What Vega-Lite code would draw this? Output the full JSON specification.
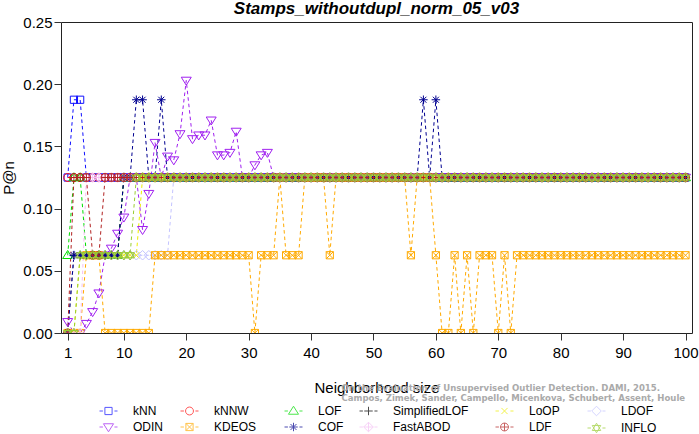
{
"$schema":"https://vega.github.io/schema/vega-lite/v6.json",
"autosize":{"type":"none"},
"width":631,"height":311,
"padding":{"left":61,"top":22,"right":7,"bottom":101},
"background":"white",
"title":{"text":"Stamps_withoutdupl_norm_05_v03","font":"Liberation Sans","fontSize":17,"fontWeight":"bold","fontStyle":"italic","color":"black","anchor":"middle","frame":"group","baseline":"alphabetic","offset":0,"dy":16},
"config":{"view":{"stroke":"#222","strokeWidth":1},"font":"Liberation Sans","legend":{"title":null,"orient":"none","legendY":379.5,"direction":"vertical","padding":0,"labelFont":"Liberation Sans","labelFontSize":12,"labelColor":"black","symbolSize":324,"symbolStrokeWidth":1,"labelOffset":15,"rowPadding":0}},
"datasets":{"d":[
{"m":"kNN","k":1,"p":0.125},{"m":"kNN","k":2,"p":0.1875},{"m":"kNN","k":3,"p":0.1875},{"m":"kNN","k":4,"p":0.125},{"m":"kNN","k":5,"p":0.125},{"m":"kNN","k":6,"p":0.125},{"m":"kNN","k":7,"p":0.125},{"m":"kNN","k":8,"p":0.125},{"m":"kNN","k":9,"p":0.125},{"m":"kNN","k":10,"p":0.125},{"m":"kNN","k":11,"p":0.125},{"m":"kNN","k":12,"p":0.125},{"m":"kNN","k":13,"p":0.125},{"m":"kNN","k":14,"p":0.125},{"m":"kNN","k":15,"p":0.125},{"m":"kNN","k":16,"p":0.125},{"m":"kNN","k":17,"p":0.125},{"m":"kNN","k":18,"p":0.125},{"m":"kNN","k":19,"p":0.125},{"m":"kNN","k":20,"p":0.125},{"m":"kNN","k":21,"p":0.125},{"m":"kNN","k":22,"p":0.125},{"m":"kNN","k":23,"p":0.125},{"m":"kNN","k":24,"p":0.125},{"m":"kNN","k":25,"p":0.125},{"m":"kNN","k":26,"p":0.125},{"m":"kNN","k":27,"p":0.125},{"m":"kNN","k":28,"p":0.125},{"m":"kNN","k":29,"p":0.125},{"m":"kNN","k":30,"p":0.125},{"m":"kNN","k":31,"p":0.125},{"m":"kNN","k":32,"p":0.125},{"m":"kNN","k":33,"p":0.125},{"m":"kNN","k":34,"p":0.125},{"m":"kNN","k":35,"p":0.125},{"m":"kNN","k":36,"p":0.125},{"m":"kNN","k":37,"p":0.125},{"m":"kNN","k":38,"p":0.125},{"m":"kNN","k":39,"p":0.125},{"m":"kNN","k":40,"p":0.125},{"m":"kNN","k":41,"p":0.125},{"m":"kNN","k":42,"p":0.125},{"m":"kNN","k":43,"p":0.125},{"m":"kNN","k":44,"p":0.125},{"m":"kNN","k":45,"p":0.125},{"m":"kNN","k":46,"p":0.125},{"m":"kNN","k":47,"p":0.125},{"m":"kNN","k":48,"p":0.125},{"m":"kNN","k":49,"p":0.125},{"m":"kNN","k":50,"p":0.125},{"m":"kNN","k":51,"p":0.125},{"m":"kNN","k":52,"p":0.125},{"m":"kNN","k":53,"p":0.125},{"m":"kNN","k":54,"p":0.125},{"m":"kNN","k":55,"p":0.125},{"m":"kNN","k":56,"p":0.125},{"m":"kNN","k":57,"p":0.125},{"m":"kNN","k":58,"p":0.125},{"m":"kNN","k":59,"p":0.125},{"m":"kNN","k":60,"p":0.125},{"m":"kNN","k":61,"p":0.125},{"m":"kNN","k":62,"p":0.125},{"m":"kNN","k":63,"p":0.125},{"m":"kNN","k":64,"p":0.125},{"m":"kNN","k":65,"p":0.125},{"m":"kNN","k":66,"p":0.125},{"m":"kNN","k":67,"p":0.125},{"m":"kNN","k":68,"p":0.125},{"m":"kNN","k":69,"p":0.125},{"m":"kNN","k":70,"p":0.125},{"m":"kNN","k":71,"p":0.125},{"m":"kNN","k":72,"p":0.125},{"m":"kNN","k":73,"p":0.125},{"m":"kNN","k":74,"p":0.125},{"m":"kNN","k":75,"p":0.125},{"m":"kNN","k":76,"p":0.125},{"m":"kNN","k":77,"p":0.125},{"m":"kNN","k":78,"p":0.125},{"m":"kNN","k":79,"p":0.125},{"m":"kNN","k":80,"p":0.125},{"m":"kNN","k":81,"p":0.125},{"m":"kNN","k":82,"p":0.125},{"m":"kNN","k":83,"p":0.125},{"m":"kNN","k":84,"p":0.125},{"m":"kNN","k":85,"p":0.125},{"m":"kNN","k":86,"p":0.125},{"m":"kNN","k":87,"p":0.125},{"m":"kNN","k":88,"p":0.125},{"m":"kNN","k":89,"p":0.125},{"m":"kNN","k":90,"p":0.125},{"m":"kNN","k":91,"p":0.125},{"m":"kNN","k":92,"p":0.125},{"m":"kNN","k":93,"p":0.125},{"m":"kNN","k":94,"p":0.125},{"m":"kNN","k":95,"p":0.125},{"m":"kNN","k":96,"p":0.125},{"m":"kNN","k":97,"p":0.125},{"m":"kNN","k":98,"p":0.125},{"m":"kNN","k":99,"p":0.125},{"m":"kNN","k":100,"p":0.125},
{"m":"kNNW","k":1,"p":0.125},{"m":"kNNW","k":2,"p":0.125},{"m":"kNNW","k":3,"p":0.125},{"m":"kNNW","k":4,"p":0.125},{"m":"kNNW","k":5,"p":0.125},{"m":"kNNW","k":6,"p":0.125},{"m":"kNNW","k":7,"p":0.125},{"m":"kNNW","k":8,"p":0.125},{"m":"kNNW","k":9,"p":0.125},{"m":"kNNW","k":10,"p":0.125},{"m":"kNNW","k":11,"p":0.125},{"m":"kNNW","k":12,"p":0.125},{"m":"kNNW","k":13,"p":0.125},{"m":"kNNW","k":14,"p":0.125},{"m":"kNNW","k":15,"p":0.125},{"m":"kNNW","k":16,"p":0.125},{"m":"kNNW","k":17,"p":0.125},{"m":"kNNW","k":18,"p":0.125},{"m":"kNNW","k":19,"p":0.125},{"m":"kNNW","k":20,"p":0.125},{"m":"kNNW","k":21,"p":0.125},{"m":"kNNW","k":22,"p":0.125},{"m":"kNNW","k":23,"p":0.125},{"m":"kNNW","k":24,"p":0.125},{"m":"kNNW","k":25,"p":0.125},{"m":"kNNW","k":26,"p":0.125},{"m":"kNNW","k":27,"p":0.125},{"m":"kNNW","k":28,"p":0.125},{"m":"kNNW","k":29,"p":0.125},{"m":"kNNW","k":30,"p":0.125},{"m":"kNNW","k":31,"p":0.125},{"m":"kNNW","k":32,"p":0.125},{"m":"kNNW","k":33,"p":0.125},{"m":"kNNW","k":34,"p":0.125},{"m":"kNNW","k":35,"p":0.125},{"m":"kNNW","k":36,"p":0.125},{"m":"kNNW","k":37,"p":0.125},{"m":"kNNW","k":38,"p":0.125},{"m":"kNNW","k":39,"p":0.125},{"m":"kNNW","k":40,"p":0.125},{"m":"kNNW","k":41,"p":0.125},{"m":"kNNW","k":42,"p":0.125},{"m":"kNNW","k":43,"p":0.125},{"m":"kNNW","k":44,"p":0.125},{"m":"kNNW","k":45,"p":0.125},{"m":"kNNW","k":46,"p":0.125},{"m":"kNNW","k":47,"p":0.125},{"m":"kNNW","k":48,"p":0.125},{"m":"kNNW","k":49,"p":0.125},{"m":"kNNW","k":50,"p":0.125},{"m":"kNNW","k":51,"p":0.125},{"m":"kNNW","k":52,"p":0.125},{"m":"kNNW","k":53,"p":0.125},{"m":"kNNW","k":54,"p":0.125},{"m":"kNNW","k":55,"p":0.125},{"m":"kNNW","k":56,"p":0.125},{"m":"kNNW","k":57,"p":0.125},{"m":"kNNW","k":58,"p":0.125},{"m":"kNNW","k":59,"p":0.125},{"m":"kNNW","k":60,"p":0.125},{"m":"kNNW","k":61,"p":0.125},{"m":"kNNW","k":62,"p":0.125},{"m":"kNNW","k":63,"p":0.125},{"m":"kNNW","k":64,"p":0.125},{"m":"kNNW","k":65,"p":0.125},{"m":"kNNW","k":66,"p":0.125},{"m":"kNNW","k":67,"p":0.125},{"m":"kNNW","k":68,"p":0.125},{"m":"kNNW","k":69,"p":0.125},{"m":"kNNW","k":70,"p":0.125},{"m":"kNNW","k":71,"p":0.125},{"m":"kNNW","k":72,"p":0.125},{"m":"kNNW","k":73,"p":0.125},{"m":"kNNW","k":74,"p":0.125},{"m":"kNNW","k":75,"p":0.125},{"m":"kNNW","k":76,"p":0.125},{"m":"kNNW","k":77,"p":0.125},{"m":"kNNW","k":78,"p":0.125},{"m":"kNNW","k":79,"p":0.125},{"m":"kNNW","k":80,"p":0.125},{"m":"kNNW","k":81,"p":0.125},{"m":"kNNW","k":82,"p":0.125},{"m":"kNNW","k":83,"p":0.125},{"m":"kNNW","k":84,"p":0.125},{"m":"kNNW","k":85,"p":0.125},{"m":"kNNW","k":86,"p":0.125},{"m":"kNNW","k":87,"p":0.125},{"m":"kNNW","k":88,"p":0.125},{"m":"kNNW","k":89,"p":0.125},{"m":"kNNW","k":90,"p":0.125},{"m":"kNNW","k":91,"p":0.125},{"m":"kNNW","k":92,"p":0.125},{"m":"kNNW","k":93,"p":0.125},{"m":"kNNW","k":94,"p":0.125},{"m":"kNNW","k":95,"p":0.125},{"m":"kNNW","k":96,"p":0.125},{"m":"kNNW","k":97,"p":0.125},{"m":"kNNW","k":98,"p":0.125},{"m":"kNNW","k":99,"p":0.125},{"m":"kNNW","k":100,"p":0.125},
{"m":"LOF","k":1,"p":0.0625},{"m":"LOF","k":2,"p":0.125},{"m":"LOF","k":3,"p":0.125},{"m":"LOF","k":4,"p":0.0625},{"m":"LOF","k":5,"p":0.0625},{"m":"LOF","k":6,"p":0.0625},{"m":"LOF","k":7,"p":0.0625},{"m":"LOF","k":8,"p":0.0625},{"m":"LOF","k":9,"p":0.0625},{"m":"LOF","k":10,"p":0.125},{"m":"LOF","k":11,"p":0.125},{"m":"LOF","k":12,"p":0.125},{"m":"LOF","k":13,"p":0.125},{"m":"LOF","k":14,"p":0.125},{"m":"LOF","k":15,"p":0.125},{"m":"LOF","k":16,"p":0.125},{"m":"LOF","k":17,"p":0.125},{"m":"LOF","k":18,"p":0.125},{"m":"LOF","k":19,"p":0.125},{"m":"LOF","k":20,"p":0.125},{"m":"LOF","k":21,"p":0.125},{"m":"LOF","k":22,"p":0.125},{"m":"LOF","k":23,"p":0.125},{"m":"LOF","k":24,"p":0.125},{"m":"LOF","k":25,"p":0.125},{"m":"LOF","k":26,"p":0.125},{"m":"LOF","k":27,"p":0.125},{"m":"LOF","k":28,"p":0.125},{"m":"LOF","k":29,"p":0.125},{"m":"LOF","k":30,"p":0.125},{"m":"LOF","k":31,"p":0.125},{"m":"LOF","k":32,"p":0.125},{"m":"LOF","k":33,"p":0.125},{"m":"LOF","k":34,"p":0.125},{"m":"LOF","k":35,"p":0.125},{"m":"LOF","k":36,"p":0.125},{"m":"LOF","k":37,"p":0.125},{"m":"LOF","k":38,"p":0.125},{"m":"LOF","k":39,"p":0.125},{"m":"LOF","k":40,"p":0.125},{"m":"LOF","k":41,"p":0.125},{"m":"LOF","k":42,"p":0.125},{"m":"LOF","k":43,"p":0.125},{"m":"LOF","k":44,"p":0.125},{"m":"LOF","k":45,"p":0.125},{"m":"LOF","k":46,"p":0.125},{"m":"LOF","k":47,"p":0.125},{"m":"LOF","k":48,"p":0.125},{"m":"LOF","k":49,"p":0.125},{"m":"LOF","k":50,"p":0.125},{"m":"LOF","k":51,"p":0.125},{"m":"LOF","k":52,"p":0.125},{"m":"LOF","k":53,"p":0.125},{"m":"LOF","k":54,"p":0.125},{"m":"LOF","k":55,"p":0.125},{"m":"LOF","k":56,"p":0.125},{"m":"LOF","k":57,"p":0.125},{"m":"LOF","k":58,"p":0.125},{"m":"LOF","k":59,"p":0.125},{"m":"LOF","k":60,"p":0.125},{"m":"LOF","k":61,"p":0.125},{"m":"LOF","k":62,"p":0.125},{"m":"LOF","k":63,"p":0.125},{"m":"LOF","k":64,"p":0.125},{"m":"LOF","k":65,"p":0.125},{"m":"LOF","k":66,"p":0.125},{"m":"LOF","k":67,"p":0.125},{"m":"LOF","k":68,"p":0.125},{"m":"LOF","k":69,"p":0.125},{"m":"LOF","k":70,"p":0.125},{"m":"LOF","k":71,"p":0.125},{"m":"LOF","k":72,"p":0.125},{"m":"LOF","k":73,"p":0.125},{"m":"LOF","k":74,"p":0.125},{"m":"LOF","k":75,"p":0.125},{"m":"LOF","k":76,"p":0.125},{"m":"LOF","k":77,"p":0.125},{"m":"LOF","k":78,"p":0.125},{"m":"LOF","k":79,"p":0.125},{"m":"LOF","k":80,"p":0.125},{"m":"LOF","k":81,"p":0.125},{"m":"LOF","k":82,"p":0.125},{"m":"LOF","k":83,"p":0.125},{"m":"LOF","k":84,"p":0.125},{"m":"LOF","k":85,"p":0.125},{"m":"LOF","k":86,"p":0.125},{"m":"LOF","k":87,"p":0.125},{"m":"LOF","k":88,"p":0.125},{"m":"LOF","k":89,"p":0.125},{"m":"LOF","k":90,"p":0.125},{"m":"LOF","k":91,"p":0.125},{"m":"LOF","k":92,"p":0.125},{"m":"LOF","k":93,"p":0.125},{"m":"LOF","k":94,"p":0.125},{"m":"LOF","k":95,"p":0.125},{"m":"LOF","k":96,"p":0.125},{"m":"LOF","k":97,"p":0.125},{"m":"LOF","k":98,"p":0.125},{"m":"LOF","k":99,"p":0.125},{"m":"LOF","k":100,"p":0.125},
{"m":"SimplifiedLOF","k":1,"p":0},{"m":"SimplifiedLOF","k":2,"p":0.0625},{"m":"SimplifiedLOF","k":3,"p":0.0625},{"m":"SimplifiedLOF","k":4,"p":0.0625},{"m":"SimplifiedLOF","k":5,"p":0.0625},{"m":"SimplifiedLOF","k":6,"p":0.0625},{"m":"SimplifiedLOF","k":7,"p":0.0625},{"m":"SimplifiedLOF","k":8,"p":0.0625},{"m":"SimplifiedLOF","k":9,"p":0.0625},{"m":"SimplifiedLOF","k":10,"p":0.125},{"m":"SimplifiedLOF","k":11,"p":0.125},{"m":"SimplifiedLOF","k":12,"p":0.125},{"m":"SimplifiedLOF","k":13,"p":0.125},{"m":"SimplifiedLOF","k":14,"p":0.125},{"m":"SimplifiedLOF","k":15,"p":0.125},{"m":"SimplifiedLOF","k":16,"p":0.125},{"m":"SimplifiedLOF","k":17,"p":0.125},{"m":"SimplifiedLOF","k":18,"p":0.125},{"m":"SimplifiedLOF","k":19,"p":0.125},{"m":"SimplifiedLOF","k":20,"p":0.125},{"m":"SimplifiedLOF","k":21,"p":0.125},{"m":"SimplifiedLOF","k":22,"p":0.125},{"m":"SimplifiedLOF","k":23,"p":0.125},{"m":"SimplifiedLOF","k":24,"p":0.125},{"m":"SimplifiedLOF","k":25,"p":0.125},{"m":"SimplifiedLOF","k":26,"p":0.125},{"m":"SimplifiedLOF","k":27,"p":0.125},{"m":"SimplifiedLOF","k":28,"p":0.125},{"m":"SimplifiedLOF","k":29,"p":0.125},{"m":"SimplifiedLOF","k":30,"p":0.125},{"m":"SimplifiedLOF","k":31,"p":0.125},{"m":"SimplifiedLOF","k":32,"p":0.125},{"m":"SimplifiedLOF","k":33,"p":0.125},{"m":"SimplifiedLOF","k":34,"p":0.125},{"m":"SimplifiedLOF","k":35,"p":0.125},{"m":"SimplifiedLOF","k":36,"p":0.125},{"m":"SimplifiedLOF","k":37,"p":0.125},{"m":"SimplifiedLOF","k":38,"p":0.125},{"m":"SimplifiedLOF","k":39,"p":0.125},{"m":"SimplifiedLOF","k":40,"p":0.125},{"m":"SimplifiedLOF","k":41,"p":0.125},{"m":"SimplifiedLOF","k":42,"p":0.125},{"m":"SimplifiedLOF","k":43,"p":0.125},{"m":"SimplifiedLOF","k":44,"p":0.125},{"m":"SimplifiedLOF","k":45,"p":0.125},{"m":"SimplifiedLOF","k":46,"p":0.125},{"m":"SimplifiedLOF","k":47,"p":0.125},{"m":"SimplifiedLOF","k":48,"p":0.125},{"m":"SimplifiedLOF","k":49,"p":0.125},{"m":"SimplifiedLOF","k":50,"p":0.125},{"m":"SimplifiedLOF","k":51,"p":0.125},{"m":"SimplifiedLOF","k":52,"p":0.125},{"m":"SimplifiedLOF","k":53,"p":0.125},{"m":"SimplifiedLOF","k":54,"p":0.125},{"m":"SimplifiedLOF","k":55,"p":0.125},{"m":"SimplifiedLOF","k":56,"p":0.125},{"m":"SimplifiedLOF","k":57,"p":0.125},{"m":"SimplifiedLOF","k":58,"p":0.125},{"m":"SimplifiedLOF","k":59,"p":0.125},{"m":"SimplifiedLOF","k":60,"p":0.125},{"m":"SimplifiedLOF","k":61,"p":0.125},{"m":"SimplifiedLOF","k":62,"p":0.125},{"m":"SimplifiedLOF","k":63,"p":0.125},{"m":"SimplifiedLOF","k":64,"p":0.125},{"m":"SimplifiedLOF","k":65,"p":0.125},{"m":"SimplifiedLOF","k":66,"p":0.125},{"m":"SimplifiedLOF","k":67,"p":0.125},{"m":"SimplifiedLOF","k":68,"p":0.125},{"m":"SimplifiedLOF","k":69,"p":0.125},{"m":"SimplifiedLOF","k":70,"p":0.125},{"m":"SimplifiedLOF","k":71,"p":0.125},{"m":"SimplifiedLOF","k":72,"p":0.125},{"m":"SimplifiedLOF","k":73,"p":0.125},{"m":"SimplifiedLOF","k":74,"p":0.125},{"m":"SimplifiedLOF","k":75,"p":0.125},{"m":"SimplifiedLOF","k":76,"p":0.125},{"m":"SimplifiedLOF","k":77,"p":0.125},{"m":"SimplifiedLOF","k":78,"p":0.125},{"m":"SimplifiedLOF","k":79,"p":0.125},{"m":"SimplifiedLOF","k":80,"p":0.125},{"m":"SimplifiedLOF","k":81,"p":0.125},{"m":"SimplifiedLOF","k":82,"p":0.125},{"m":"SimplifiedLOF","k":83,"p":0.125},{"m":"SimplifiedLOF","k":84,"p":0.125},{"m":"SimplifiedLOF","k":85,"p":0.125},{"m":"SimplifiedLOF","k":86,"p":0.125},{"m":"SimplifiedLOF","k":87,"p":0.125},{"m":"SimplifiedLOF","k":88,"p":0.125},{"m":"SimplifiedLOF","k":89,"p":0.125},{"m":"SimplifiedLOF","k":90,"p":0.125},{"m":"SimplifiedLOF","k":91,"p":0.125},{"m":"SimplifiedLOF","k":92,"p":0.125},{"m":"SimplifiedLOF","k":93,"p":0.125},{"m":"SimplifiedLOF","k":94,"p":0.125},{"m":"SimplifiedLOF","k":95,"p":0.125},{"m":"SimplifiedLOF","k":96,"p":0.125},{"m":"SimplifiedLOF","k":97,"p":0.125},{"m":"SimplifiedLOF","k":98,"p":0.125},{"m":"SimplifiedLOF","k":99,"p":0.125},{"m":"SimplifiedLOF","k":100,"p":0.125},
{"m":"LoOP","k":1,"p":0},{"m":"LoOP","k":2,"p":0},{"m":"LoOP","k":3,"p":0.0625},{"m":"LoOP","k":4,"p":0.0625},{"m":"LoOP","k":5,"p":0.0625},{"m":"LoOP","k":6,"p":0.0625},{"m":"LoOP","k":7,"p":0.0625},{"m":"LoOP","k":8,"p":0.0625},{"m":"LoOP","k":9,"p":0.0625},{"m":"LoOP","k":10,"p":0.0625},{"m":"LoOP","k":11,"p":0.0625},{"m":"LoOP","k":12,"p":0.0625},{"m":"LoOP","k":13,"p":0.125},{"m":"LoOP","k":14,"p":0.125},{"m":"LoOP","k":15,"p":0.125},{"m":"LoOP","k":16,"p":0.125},{"m":"LoOP","k":17,"p":0.125},{"m":"LoOP","k":18,"p":0.125},{"m":"LoOP","k":19,"p":0.125},{"m":"LoOP","k":20,"p":0.125},{"m":"LoOP","k":21,"p":0.125},{"m":"LoOP","k":22,"p":0.125},{"m":"LoOP","k":23,"p":0.125},{"m":"LoOP","k":24,"p":0.125},{"m":"LoOP","k":25,"p":0.125},{"m":"LoOP","k":26,"p":0.125},{"m":"LoOP","k":27,"p":0.125},{"m":"LoOP","k":28,"p":0.125},{"m":"LoOP","k":29,"p":0.125},{"m":"LoOP","k":30,"p":0.125},{"m":"LoOP","k":31,"p":0.125},{"m":"LoOP","k":32,"p":0.125},{"m":"LoOP","k":33,"p":0.125},{"m":"LoOP","k":34,"p":0.125},{"m":"LoOP","k":35,"p":0.125},{"m":"LoOP","k":36,"p":0.125},{"m":"LoOP","k":37,"p":0.125},{"m":"LoOP","k":38,"p":0.125},{"m":"LoOP","k":39,"p":0.125},{"m":"LoOP","k":40,"p":0.125},{"m":"LoOP","k":41,"p":0.125},{"m":"LoOP","k":42,"p":0.125},{"m":"LoOP","k":43,"p":0.125},{"m":"LoOP","k":44,"p":0.125},{"m":"LoOP","k":45,"p":0.125},{"m":"LoOP","k":46,"p":0.125},{"m":"LoOP","k":47,"p":0.125},{"m":"LoOP","k":48,"p":0.125},{"m":"LoOP","k":49,"p":0.125},{"m":"LoOP","k":50,"p":0.125},{"m":"LoOP","k":51,"p":0.125},{"m":"LoOP","k":52,"p":0.125},{"m":"LoOP","k":53,"p":0.125},{"m":"LoOP","k":54,"p":0.125},{"m":"LoOP","k":55,"p":0.125},{"m":"LoOP","k":56,"p":0.125},{"m":"LoOP","k":57,"p":0.125},{"m":"LoOP","k":58,"p":0.125},{"m":"LoOP","k":59,"p":0.125},{"m":"LoOP","k":60,"p":0.125},{"m":"LoOP","k":61,"p":0.125},{"m":"LoOP","k":62,"p":0.125},{"m":"LoOP","k":63,"p":0.125},{"m":"LoOP","k":64,"p":0.125},{"m":"LoOP","k":65,"p":0.125},{"m":"LoOP","k":66,"p":0.125},{"m":"LoOP","k":67,"p":0.125},{"m":"LoOP","k":68,"p":0.125},{"m":"LoOP","k":69,"p":0.125},{"m":"LoOP","k":70,"p":0.125},{"m":"LoOP","k":71,"p":0.125},{"m":"LoOP","k":72,"p":0.125},{"m":"LoOP","k":73,"p":0.125},{"m":"LoOP","k":74,"p":0.125},{"m":"LoOP","k":75,"p":0.125},{"m":"LoOP","k":76,"p":0.125},{"m":"LoOP","k":77,"p":0.125},{"m":"LoOP","k":78,"p":0.125},{"m":"LoOP","k":79,"p":0.125},{"m":"LoOP","k":80,"p":0.125},{"m":"LoOP","k":81,"p":0.125},{"m":"LoOP","k":82,"p":0.125},{"m":"LoOP","k":83,"p":0.125},{"m":"LoOP","k":84,"p":0.125},{"m":"LoOP","k":85,"p":0.125},{"m":"LoOP","k":86,"p":0.125},{"m":"LoOP","k":87,"p":0.125},{"m":"LoOP","k":88,"p":0.125},{"m":"LoOP","k":89,"p":0.125},{"m":"LoOP","k":90,"p":0.125},{"m":"LoOP","k":91,"p":0.125},{"m":"LoOP","k":92,"p":0.125},{"m":"LoOP","k":93,"p":0.125},{"m":"LoOP","k":94,"p":0.125},{"m":"LoOP","k":95,"p":0.125},{"m":"LoOP","k":96,"p":0.125},{"m":"LoOP","k":97,"p":0.125},{"m":"LoOP","k":98,"p":0.125},{"m":"LoOP","k":99,"p":0.125},{"m":"LoOP","k":100,"p":0.125},
{"m":"LDOF","k":1,"p":0},{"m":"LDOF","k":2,"p":0.0625},{"m":"LDOF","k":3,"p":0.0625},{"m":"LDOF","k":4,"p":0.0625},{"m":"LDOF","k":5,"p":0.0625},{"m":"LDOF","k":6,"p":0.0625},{"m":"LDOF","k":7,"p":0.0625},{"m":"LDOF","k":8,"p":0.0625},{"m":"LDOF","k":9,"p":0.0625},{"m":"LDOF","k":10,"p":0.0625},{"m":"LDOF","k":11,"p":0.0625},{"m":"LDOF","k":12,"p":0.0625},{"m":"LDOF","k":13,"p":0.0625},{"m":"LDOF","k":14,"p":0.0625},{"m":"LDOF","k":15,"p":0.0625},{"m":"LDOF","k":16,"p":0.0625},{"m":"LDOF","k":17,"p":0.0625},{"m":"LDOF","k":18,"p":0.125},{"m":"LDOF","k":19,"p":0.125},{"m":"LDOF","k":20,"p":0.125},{"m":"LDOF","k":21,"p":0.125},{"m":"LDOF","k":22,"p":0.125},{"m":"LDOF","k":23,"p":0.125},{"m":"LDOF","k":24,"p":0.125},{"m":"LDOF","k":25,"p":0.125},{"m":"LDOF","k":26,"p":0.125},{"m":"LDOF","k":27,"p":0.125},{"m":"LDOF","k":28,"p":0.125},{"m":"LDOF","k":29,"p":0.125},{"m":"LDOF","k":30,"p":0.125},{"m":"LDOF","k":31,"p":0.125},{"m":"LDOF","k":32,"p":0.125},{"m":"LDOF","k":33,"p":0.125},{"m":"LDOF","k":34,"p":0.125},{"m":"LDOF","k":35,"p":0.125},{"m":"LDOF","k":36,"p":0.125},{"m":"LDOF","k":37,"p":0.125},{"m":"LDOF","k":38,"p":0.125},{"m":"LDOF","k":39,"p":0.125},{"m":"LDOF","k":40,"p":0.125},{"m":"LDOF","k":41,"p":0.125},{"m":"LDOF","k":42,"p":0.125},{"m":"LDOF","k":43,"p":0.125},{"m":"LDOF","k":44,"p":0.125},{"m":"LDOF","k":45,"p":0.125},{"m":"LDOF","k":46,"p":0.125},{"m":"LDOF","k":47,"p":0.125},{"m":"LDOF","k":48,"p":0.125},{"m":"LDOF","k":49,"p":0.125},{"m":"LDOF","k":50,"p":0.125},{"m":"LDOF","k":51,"p":0.125},{"m":"LDOF","k":52,"p":0.125},{"m":"LDOF","k":53,"p":0.125},{"m":"LDOF","k":54,"p":0.125},{"m":"LDOF","k":55,"p":0.125},{"m":"LDOF","k":56,"p":0.125},{"m":"LDOF","k":57,"p":0.125},{"m":"LDOF","k":58,"p":0.125},{"m":"LDOF","k":59,"p":0.125},{"m":"LDOF","k":60,"p":0.125},{"m":"LDOF","k":61,"p":0.125},{"m":"LDOF","k":62,"p":0.125},{"m":"LDOF","k":63,"p":0.125},{"m":"LDOF","k":64,"p":0.125},{"m":"LDOF","k":65,"p":0.125},{"m":"LDOF","k":66,"p":0.125},{"m":"LDOF","k":67,"p":0.125},{"m":"LDOF","k":68,"p":0.125},{"m":"LDOF","k":69,"p":0.125},{"m":"LDOF","k":70,"p":0.125},{"m":"LDOF","k":71,"p":0.125},{"m":"LDOF","k":72,"p":0.125},{"m":"LDOF","k":73,"p":0.125},{"m":"LDOF","k":74,"p":0.125},{"m":"LDOF","k":75,"p":0.125},{"m":"LDOF","k":76,"p":0.125},{"m":"LDOF","k":77,"p":0.125},{"m":"LDOF","k":78,"p":0.125},{"m":"LDOF","k":79,"p":0.125},{"m":"LDOF","k":80,"p":0.125},{"m":"LDOF","k":81,"p":0.125},{"m":"LDOF","k":82,"p":0.125},{"m":"LDOF","k":83,"p":0.125},{"m":"LDOF","k":84,"p":0.125},{"m":"LDOF","k":85,"p":0.125},{"m":"LDOF","k":86,"p":0.125},{"m":"LDOF","k":87,"p":0.125},{"m":"LDOF","k":88,"p":0.125},{"m":"LDOF","k":89,"p":0.125},{"m":"LDOF","k":90,"p":0.125},{"m":"LDOF","k":91,"p":0.125},{"m":"LDOF","k":92,"p":0.125},{"m":"LDOF","k":93,"p":0.125},{"m":"LDOF","k":94,"p":0.125},{"m":"LDOF","k":95,"p":0.125},{"m":"LDOF","k":96,"p":0.125},{"m":"LDOF","k":97,"p":0.125},{"m":"LDOF","k":98,"p":0.125},{"m":"LDOF","k":99,"p":0.125},{"m":"LDOF","k":100,"p":0.125},
{"m":"ODIN","k":1,"p":0.009},{"m":"ODIN","k":2,"p":0},{"m":"ODIN","k":3,"p":0},{"m":"ODIN","k":4,"p":0.0075},{"m":"ODIN","k":5,"p":0.017},{"m":"ODIN","k":6,"p":0.032},{"m":"ODIN","k":7,"p":0.0625},{"m":"ODIN","k":8,"p":0.068},{"m":"ODIN","k":9,"p":0.08},{"m":"ODIN","k":10,"p":0.093},{"m":"ODIN","k":11,"p":0.125},{"m":"ODIN","k":12,"p":0.125},{"m":"ODIN","k":13,"p":0.083},{"m":"ODIN","k":14,"p":0.112},{"m":"ODIN","k":15,"p":0.153},{"m":"ODIN","k":16,"p":0.125},{"m":"ODIN","k":17,"p":0.142},{"m":"ODIN","k":18,"p":0.139},{"m":"ODIN","k":19,"p":0.16},{"m":"ODIN","k":20,"p":0.203},{"m":"ODIN","k":21,"p":0.156},{"m":"ODIN","k":22,"p":0.159},{"m":"ODIN","k":23,"p":0.159},{"m":"ODIN","k":24,"p":0.171},{"m":"ODIN","k":25,"p":0.143},{"m":"ODIN","k":26,"p":0.143},{"m":"ODIN","k":27,"p":0.145},{"m":"ODIN","k":28,"p":0.162},{"m":"ODIN","k":29,"p":0.125},{"m":"ODIN","k":30,"p":0.125},{"m":"ODIN","k":31,"p":0.135},{"m":"ODIN","k":32,"p":0.143},{"m":"ODIN","k":33,"p":0.145},{"m":"ODIN","k":34,"p":0.125},{"m":"ODIN","k":35,"p":0.125},{"m":"ODIN","k":36,"p":0.125},{"m":"ODIN","k":37,"p":0.125},{"m":"ODIN","k":38,"p":0.125},{"m":"ODIN","k":39,"p":0.125},{"m":"ODIN","k":40,"p":0.125},{"m":"ODIN","k":41,"p":0.125},{"m":"ODIN","k":42,"p":0.125},{"m":"ODIN","k":43,"p":0.125},{"m":"ODIN","k":44,"p":0.125},{"m":"ODIN","k":45,"p":0.125},{"m":"ODIN","k":46,"p":0.125},{"m":"ODIN","k":47,"p":0.125},{"m":"ODIN","k":48,"p":0.125},{"m":"ODIN","k":49,"p":0.125},{"m":"ODIN","k":50,"p":0.125},{"m":"ODIN","k":51,"p":0.125},{"m":"ODIN","k":52,"p":0.125},{"m":"ODIN","k":53,"p":0.125},{"m":"ODIN","k":54,"p":0.125},{"m":"ODIN","k":55,"p":0.125},{"m":"ODIN","k":56,"p":0.125},{"m":"ODIN","k":57,"p":0.125},{"m":"ODIN","k":58,"p":0.125},{"m":"ODIN","k":59,"p":0.125},{"m":"ODIN","k":60,"p":0.125},{"m":"ODIN","k":61,"p":0.125},{"m":"ODIN","k":62,"p":0.125},{"m":"ODIN","k":63,"p":0.125},{"m":"ODIN","k":64,"p":0.125},{"m":"ODIN","k":65,"p":0.125},{"m":"ODIN","k":66,"p":0.125},{"m":"ODIN","k":67,"p":0.125},{"m":"ODIN","k":68,"p":0.125},{"m":"ODIN","k":69,"p":0.125},{"m":"ODIN","k":70,"p":0.125},{"m":"ODIN","k":71,"p":0.125},{"m":"ODIN","k":72,"p":0.125},{"m":"ODIN","k":73,"p":0.125},{"m":"ODIN","k":74,"p":0.125},{"m":"ODIN","k":75,"p":0.125},{"m":"ODIN","k":76,"p":0.125},{"m":"ODIN","k":77,"p":0.125},{"m":"ODIN","k":78,"p":0.125},{"m":"ODIN","k":79,"p":0.125},{"m":"ODIN","k":80,"p":0.125},{"m":"ODIN","k":81,"p":0.125},{"m":"ODIN","k":82,"p":0.125},{"m":"ODIN","k":83,"p":0.125},{"m":"ODIN","k":84,"p":0.125},{"m":"ODIN","k":85,"p":0.125},{"m":"ODIN","k":86,"p":0.125},{"m":"ODIN","k":87,"p":0.125},{"m":"ODIN","k":88,"p":0.125},{"m":"ODIN","k":89,"p":0.125},{"m":"ODIN","k":90,"p":0.125},{"m":"ODIN","k":91,"p":0.125},{"m":"ODIN","k":92,"p":0.125},{"m":"ODIN","k":93,"p":0.125},{"m":"ODIN","k":94,"p":0.125},{"m":"ODIN","k":95,"p":0.125},{"m":"ODIN","k":96,"p":0.125},{"m":"ODIN","k":97,"p":0.125},{"m":"ODIN","k":98,"p":0.125},{"m":"ODIN","k":99,"p":0.125},{"m":"ODIN","k":100,"p":0.125},
{"m":"KDEOS","k":1,"p":0},{"m":"KDEOS","k":2,"p":0},{"m":"KDEOS","k":3,"p":0},{"m":"KDEOS","k":4,"p":0.0625},{"m":"KDEOS","k":5,"p":0.0625},{"m":"KDEOS","k":6,"p":0.0625},{"m":"KDEOS","k":7,"p":0},{"m":"KDEOS","k":8,"p":0},{"m":"KDEOS","k":9,"p":0},{"m":"KDEOS","k":10,"p":0},{"m":"KDEOS","k":11,"p":0},{"m":"KDEOS","k":12,"p":0},{"m":"KDEOS","k":13,"p":0},{"m":"KDEOS","k":14,"p":0},{"m":"KDEOS","k":15,"p":0.0625},{"m":"KDEOS","k":16,"p":0.0625},{"m":"KDEOS","k":17,"p":0.0625},{"m":"KDEOS","k":18,"p":0.0625},{"m":"KDEOS","k":19,"p":0.0625},{"m":"KDEOS","k":20,"p":0.0625},{"m":"KDEOS","k":21,"p":0.0625},{"m":"KDEOS","k":22,"p":0.0625},{"m":"KDEOS","k":23,"p":0.0625},{"m":"KDEOS","k":24,"p":0.0625},{"m":"KDEOS","k":25,"p":0.0625},{"m":"KDEOS","k":26,"p":0.0625},{"m":"KDEOS","k":27,"p":0.0625},{"m":"KDEOS","k":28,"p":0.0625},{"m":"KDEOS","k":29,"p":0.0625},{"m":"KDEOS","k":30,"p":0.0625},{"m":"KDEOS","k":31,"p":0},{"m":"KDEOS","k":32,"p":0.0625},{"m":"KDEOS","k":33,"p":0.0625},{"m":"KDEOS","k":34,"p":0.0625},{"m":"KDEOS","k":35,"p":0.125},{"m":"KDEOS","k":36,"p":0.0625},{"m":"KDEOS","k":37,"p":0.0625},{"m":"KDEOS","k":38,"p":0.0625},{"m":"KDEOS","k":39,"p":0.125},{"m":"KDEOS","k":40,"p":0.125},{"m":"KDEOS","k":41,"p":0.125},{"m":"KDEOS","k":42,"p":0.125},{"m":"KDEOS","k":43,"p":0.0625},{"m":"KDEOS","k":44,"p":0.125},{"m":"KDEOS","k":45,"p":0.125},{"m":"KDEOS","k":46,"p":0.125},{"m":"KDEOS","k":47,"p":0.125},{"m":"KDEOS","k":48,"p":0.125},{"m":"KDEOS","k":49,"p":0.125},{"m":"KDEOS","k":50,"p":0.125},{"m":"KDEOS","k":51,"p":0.125},{"m":"KDEOS","k":52,"p":0.125},{"m":"KDEOS","k":53,"p":0.125},{"m":"KDEOS","k":54,"p":0.125},{"m":"KDEOS","k":55,"p":0.125},{"m":"KDEOS","k":56,"p":0.0625},{"m":"KDEOS","k":57,"p":0.125},{"m":"KDEOS","k":58,"p":0.125},{"m":"KDEOS","k":59,"p":0.125},{"m":"KDEOS","k":60,"p":0.0625},{"m":"KDEOS","k":61,"p":0},{"m":"KDEOS","k":62,"p":0},{"m":"KDEOS","k":63,"p":0.0625},{"m":"KDEOS","k":64,"p":0},{"m":"KDEOS","k":65,"p":0.0625},{"m":"KDEOS","k":66,"p":0},{"m":"KDEOS","k":67,"p":0.0625},{"m":"KDEOS","k":68,"p":0.0625},{"m":"KDEOS","k":69,"p":0.0625},{"m":"KDEOS","k":70,"p":0},{"m":"KDEOS","k":71,"p":0.0625},{"m":"KDEOS","k":72,"p":0},{"m":"KDEOS","k":73,"p":0.0625},{"m":"KDEOS","k":74,"p":0.0625},{"m":"KDEOS","k":75,"p":0.0625},{"m":"KDEOS","k":76,"p":0.0625},{"m":"KDEOS","k":77,"p":0.0625},{"m":"KDEOS","k":78,"p":0.0625},{"m":"KDEOS","k":79,"p":0.0625},{"m":"KDEOS","k":80,"p":0.0625},{"m":"KDEOS","k":81,"p":0.0625},{"m":"KDEOS","k":82,"p":0.0625},{"m":"KDEOS","k":83,"p":0.0625},{"m":"KDEOS","k":84,"p":0.0625},{"m":"KDEOS","k":85,"p":0.0625},{"m":"KDEOS","k":86,"p":0.0625},{"m":"KDEOS","k":87,"p":0.0625},{"m":"KDEOS","k":88,"p":0.0625},{"m":"KDEOS","k":89,"p":0.0625},{"m":"KDEOS","k":90,"p":0.0625},{"m":"KDEOS","k":91,"p":0.0625},{"m":"KDEOS","k":92,"p":0.0625},{"m":"KDEOS","k":93,"p":0.0625},{"m":"KDEOS","k":94,"p":0.0625},{"m":"KDEOS","k":95,"p":0.0625},{"m":"KDEOS","k":96,"p":0.0625},{"m":"KDEOS","k":97,"p":0.0625},{"m":"KDEOS","k":98,"p":0.0625},{"m":"KDEOS","k":99,"p":0.0625},{"m":"KDEOS","k":100,"p":0.0625},
{"m":"COF","k":1,"p":0},{"m":"COF","k":2,"p":0.0625},{"m":"COF","k":3,"p":0.0625},{"m":"COF","k":4,"p":0.0625},{"m":"COF","k":5,"p":0.0625},{"m":"COF","k":6,"p":0.0625},{"m":"COF","k":7,"p":0.0625},{"m":"COF","k":8,"p":0.0625},{"m":"COF","k":9,"p":0.0625},{"m":"COF","k":10,"p":0.125},{"m":"COF","k":11,"p":0.125},{"m":"COF","k":12,"p":0.1875},{"m":"COF","k":13,"p":0.1875},{"m":"COF","k":14,"p":0.125},{"m":"COF","k":15,"p":0.125},{"m":"COF","k":16,"p":0.1875},{"m":"COF","k":17,"p":0.125},{"m":"COF","k":18,"p":0.125},{"m":"COF","k":19,"p":0.125},{"m":"COF","k":20,"p":0.125},{"m":"COF","k":21,"p":0.125},{"m":"COF","k":22,"p":0.125},{"m":"COF","k":23,"p":0.125},{"m":"COF","k":24,"p":0.125},{"m":"COF","k":25,"p":0.125},{"m":"COF","k":26,"p":0.125},{"m":"COF","k":27,"p":0.125},{"m":"COF","k":28,"p":0.125},{"m":"COF","k":29,"p":0.125},{"m":"COF","k":30,"p":0.125},{"m":"COF","k":31,"p":0.125},{"m":"COF","k":32,"p":0.125},{"m":"COF","k":33,"p":0.125},{"m":"COF","k":34,"p":0.125},{"m":"COF","k":35,"p":0.125},{"m":"COF","k":36,"p":0.125},{"m":"COF","k":37,"p":0.125},{"m":"COF","k":38,"p":0.125},{"m":"COF","k":39,"p":0.125},{"m":"COF","k":40,"p":0.125},{"m":"COF","k":41,"p":0.125},{"m":"COF","k":42,"p":0.125},{"m":"COF","k":43,"p":0.125},{"m":"COF","k":44,"p":0.125},{"m":"COF","k":45,"p":0.125},{"m":"COF","k":46,"p":0.125},{"m":"COF","k":47,"p":0.125},{"m":"COF","k":48,"p":0.125},{"m":"COF","k":49,"p":0.125},{"m":"COF","k":50,"p":0.125},{"m":"COF","k":51,"p":0.125},{"m":"COF","k":52,"p":0.125},{"m":"COF","k":53,"p":0.125},{"m":"COF","k":54,"p":0.125},{"m":"COF","k":55,"p":0.125},{"m":"COF","k":56,"p":0.125},{"m":"COF","k":57,"p":0.125},{"m":"COF","k":58,"p":0.1875},{"m":"COF","k":59,"p":0.125},{"m":"COF","k":60,"p":0.1875},{"m":"COF","k":61,"p":0.125},{"m":"COF","k":62,"p":0.125},{"m":"COF","k":63,"p":0.125},{"m":"COF","k":64,"p":0.125},{"m":"COF","k":65,"p":0.125},{"m":"COF","k":66,"p":0.125},{"m":"COF","k":67,"p":0.125},{"m":"COF","k":68,"p":0.125},{"m":"COF","k":69,"p":0.125},{"m":"COF","k":70,"p":0.125},{"m":"COF","k":71,"p":0.125},{"m":"COF","k":72,"p":0.125},{"m":"COF","k":73,"p":0.125},{"m":"COF","k":74,"p":0.125},{"m":"COF","k":75,"p":0.125},{"m":"COF","k":76,"p":0.125},{"m":"COF","k":77,"p":0.125},{"m":"COF","k":78,"p":0.125},{"m":"COF","k":79,"p":0.125},{"m":"COF","k":80,"p":0.125},{"m":"COF","k":81,"p":0.125},{"m":"COF","k":82,"p":0.125},{"m":"COF","k":83,"p":0.125},{"m":"COF","k":84,"p":0.125},{"m":"COF","k":85,"p":0.125},{"m":"COF","k":86,"p":0.125},{"m":"COF","k":87,"p":0.125},{"m":"COF","k":88,"p":0.125},{"m":"COF","k":89,"p":0.125},{"m":"COF","k":90,"p":0.125},{"m":"COF","k":91,"p":0.125},{"m":"COF","k":92,"p":0.125},{"m":"COF","k":93,"p":0.125},{"m":"COF","k":94,"p":0.125},{"m":"COF","k":95,"p":0.125},{"m":"COF","k":96,"p":0.125},{"m":"COF","k":97,"p":0.125},{"m":"COF","k":98,"p":0.125},{"m":"COF","k":99,"p":0.125},{"m":"COF","k":100,"p":0.125},
{"m":"FastABOD","k":1,"p":0},{"m":"FastABOD","k":2,"p":0},{"m":"FastABOD","k":3,"p":0},{"m":"FastABOD","k":4,"p":0.125},{"m":"FastABOD","k":5,"p":0.125},{"m":"FastABOD","k":6,"p":0.125},{"m":"FastABOD","k":7,"p":0.125},{"m":"FastABOD","k":8,"p":0.125},{"m":"FastABOD","k":9,"p":0.125},{"m":"FastABOD","k":10,"p":0.125},{"m":"FastABOD","k":11,"p":0.125},{"m":"FastABOD","k":12,"p":0.125},{"m":"FastABOD","k":13,"p":0.125},{"m":"FastABOD","k":14,"p":0.125},{"m":"FastABOD","k":15,"p":0.125},{"m":"FastABOD","k":16,"p":0.125},{"m":"FastABOD","k":17,"p":0.125},{"m":"FastABOD","k":18,"p":0.125},{"m":"FastABOD","k":19,"p":0.125},{"m":"FastABOD","k":20,"p":0.125},{"m":"FastABOD","k":21,"p":0.125},{"m":"FastABOD","k":22,"p":0.125},{"m":"FastABOD","k":23,"p":0.125},{"m":"FastABOD","k":24,"p":0.125},{"m":"FastABOD","k":25,"p":0.125},{"m":"FastABOD","k":26,"p":0.125},{"m":"FastABOD","k":27,"p":0.125},{"m":"FastABOD","k":28,"p":0.125},{"m":"FastABOD","k":29,"p":0.125},{"m":"FastABOD","k":30,"p":0.125},{"m":"FastABOD","k":31,"p":0.125},{"m":"FastABOD","k":32,"p":0.125},{"m":"FastABOD","k":33,"p":0.125},{"m":"FastABOD","k":34,"p":0.125},{"m":"FastABOD","k":35,"p":0.125},{"m":"FastABOD","k":36,"p":0.125},{"m":"FastABOD","k":37,"p":0.125},{"m":"FastABOD","k":38,"p":0.125},{"m":"FastABOD","k":39,"p":0.125},{"m":"FastABOD","k":40,"p":0.125},{"m":"FastABOD","k":41,"p":0.125},{"m":"FastABOD","k":42,"p":0.125},{"m":"FastABOD","k":43,"p":0.125},{"m":"FastABOD","k":44,"p":0.125},{"m":"FastABOD","k":45,"p":0.125},{"m":"FastABOD","k":46,"p":0.125},{"m":"FastABOD","k":47,"p":0.125},{"m":"FastABOD","k":48,"p":0.125},{"m":"FastABOD","k":49,"p":0.125},{"m":"FastABOD","k":50,"p":0.125},{"m":"FastABOD","k":51,"p":0.125},{"m":"FastABOD","k":52,"p":0.125},{"m":"FastABOD","k":53,"p":0.125},{"m":"FastABOD","k":54,"p":0.125},{"m":"FastABOD","k":55,"p":0.125},{"m":"FastABOD","k":56,"p":0.125},{"m":"FastABOD","k":57,"p":0.125},{"m":"FastABOD","k":58,"p":0.125},{"m":"FastABOD","k":59,"p":0.125},{"m":"FastABOD","k":60,"p":0.125},{"m":"FastABOD","k":61,"p":0.125},{"m":"FastABOD","k":62,"p":0.125},{"m":"FastABOD","k":63,"p":0.125},{"m":"FastABOD","k":64,"p":0.125},{"m":"FastABOD","k":65,"p":0.125},{"m":"FastABOD","k":66,"p":0.125},{"m":"FastABOD","k":67,"p":0.125},{"m":"FastABOD","k":68,"p":0.125},{"m":"FastABOD","k":69,"p":0.125},{"m":"FastABOD","k":70,"p":0.125},{"m":"FastABOD","k":71,"p":0.125},{"m":"FastABOD","k":72,"p":0.125},{"m":"FastABOD","k":73,"p":0.125},{"m":"FastABOD","k":74,"p":0.125},{"m":"FastABOD","k":75,"p":0.125},{"m":"FastABOD","k":76,"p":0.125},{"m":"FastABOD","k":77,"p":0.125},{"m":"FastABOD","k":78,"p":0.125},{"m":"FastABOD","k":79,"p":0.125},{"m":"FastABOD","k":80,"p":0.125},{"m":"FastABOD","k":81,"p":0.125},{"m":"FastABOD","k":82,"p":0.125},{"m":"FastABOD","k":83,"p":0.125},{"m":"FastABOD","k":84,"p":0.125},{"m":"FastABOD","k":85,"p":0.125},{"m":"FastABOD","k":86,"p":0.125},{"m":"FastABOD","k":87,"p":0.125},{"m":"FastABOD","k":88,"p":0.125},{"m":"FastABOD","k":89,"p":0.125},{"m":"FastABOD","k":90,"p":0.125},{"m":"FastABOD","k":91,"p":0.125},{"m":"FastABOD","k":92,"p":0.125},{"m":"FastABOD","k":93,"p":0.125},{"m":"FastABOD","k":94,"p":0.125},{"m":"FastABOD","k":95,"p":0.125},{"m":"FastABOD","k":96,"p":0.125},{"m":"FastABOD","k":97,"p":0.125},{"m":"FastABOD","k":98,"p":0.125},{"m":"FastABOD","k":99,"p":0.125},{"m":"FastABOD","k":100,"p":0.125},
{"m":"LDF","k":1,"p":0},{"m":"LDF","k":2,"p":0.125},{"m":"LDF","k":3,"p":0.125},{"m":"LDF","k":4,"p":0.125},{"m":"LDF","k":5,"p":0.0625},{"m":"LDF","k":6,"p":0.0625},{"m":"LDF","k":7,"p":0.125},{"m":"LDF","k":8,"p":0.125},{"m":"LDF","k":9,"p":0.125},{"m":"LDF","k":10,"p":0.125},{"m":"LDF","k":11,"p":0.125},{"m":"LDF","k":12,"p":0.125},{"m":"LDF","k":13,"p":0.125},{"m":"LDF","k":14,"p":0.125},{"m":"LDF","k":15,"p":0.125},{"m":"LDF","k":16,"p":0.125},{"m":"LDF","k":17,"p":0.125},{"m":"LDF","k":18,"p":0.125},{"m":"LDF","k":19,"p":0.125},{"m":"LDF","k":20,"p":0.125},{"m":"LDF","k":21,"p":0.125},{"m":"LDF","k":22,"p":0.125},{"m":"LDF","k":23,"p":0.125},{"m":"LDF","k":24,"p":0.125},{"m":"LDF","k":25,"p":0.125},{"m":"LDF","k":26,"p":0.125},{"m":"LDF","k":27,"p":0.125},{"m":"LDF","k":28,"p":0.125},{"m":"LDF","k":29,"p":0.125},{"m":"LDF","k":30,"p":0.125},{"m":"LDF","k":31,"p":0.125},{"m":"LDF","k":32,"p":0.125},{"m":"LDF","k":33,"p":0.125},{"m":"LDF","k":34,"p":0.125},{"m":"LDF","k":35,"p":0.125},{"m":"LDF","k":36,"p":0.125},{"m":"LDF","k":37,"p":0.125},{"m":"LDF","k":38,"p":0.125},{"m":"LDF","k":39,"p":0.125},{"m":"LDF","k":40,"p":0.125},{"m":"LDF","k":41,"p":0.125},{"m":"LDF","k":42,"p":0.125},{"m":"LDF","k":43,"p":0.125},{"m":"LDF","k":44,"p":0.125},{"m":"LDF","k":45,"p":0.125},{"m":"LDF","k":46,"p":0.125},{"m":"LDF","k":47,"p":0.125},{"m":"LDF","k":48,"p":0.125},{"m":"LDF","k":49,"p":0.125},{"m":"LDF","k":50,"p":0.125},{"m":"LDF","k":51,"p":0.125},{"m":"LDF","k":52,"p":0.125},{"m":"LDF","k":53,"p":0.125},{"m":"LDF","k":54,"p":0.125},{"m":"LDF","k":55,"p":0.125},{"m":"LDF","k":56,"p":0.125},{"m":"LDF","k":57,"p":0.125},{"m":"LDF","k":58,"p":0.125},{"m":"LDF","k":59,"p":0.125},{"m":"LDF","k":60,"p":0.125},{"m":"LDF","k":61,"p":0.125},{"m":"LDF","k":62,"p":0.125},{"m":"LDF","k":63,"p":0.125},{"m":"LDF","k":64,"p":0.125},{"m":"LDF","k":65,"p":0.125},{"m":"LDF","k":66,"p":0.125},{"m":"LDF","k":67,"p":0.125},{"m":"LDF","k":68,"p":0.125},{"m":"LDF","k":69,"p":0.125},{"m":"LDF","k":70,"p":0.125},{"m":"LDF","k":71,"p":0.125},{"m":"LDF","k":72,"p":0.125},{"m":"LDF","k":73,"p":0.125},{"m":"LDF","k":74,"p":0.125},{"m":"LDF","k":75,"p":0.125},{"m":"LDF","k":76,"p":0.125},{"m":"LDF","k":77,"p":0.125},{"m":"LDF","k":78,"p":0.125},{"m":"LDF","k":79,"p":0.125},{"m":"LDF","k":80,"p":0.125},{"m":"LDF","k":81,"p":0.125},{"m":"LDF","k":82,"p":0.125},{"m":"LDF","k":83,"p":0.125},{"m":"LDF","k":84,"p":0.125},{"m":"LDF","k":85,"p":0.125},{"m":"LDF","k":86,"p":0.125},{"m":"LDF","k":87,"p":0.125},{"m":"LDF","k":88,"p":0.125},{"m":"LDF","k":89,"p":0.125},{"m":"LDF","k":90,"p":0.125},{"m":"LDF","k":91,"p":0.125},{"m":"LDF","k":92,"p":0.125},{"m":"LDF","k":93,"p":0.125},{"m":"LDF","k":94,"p":0.125},{"m":"LDF","k":95,"p":0.125},{"m":"LDF","k":96,"p":0.125},{"m":"LDF","k":97,"p":0.125},{"m":"LDF","k":98,"p":0.125},{"m":"LDF","k":99,"p":0.125},{"m":"LDF","k":100,"p":0.125},
{"m":"INFLO","k":1,"p":0},{"m":"INFLO","k":2,"p":0},{"m":"INFLO","k":3,"p":0.0625},{"m":"INFLO","k":4,"p":0.0625},{"m":"INFLO","k":5,"p":0.0625},{"m":"INFLO","k":6,"p":0.0625},{"m":"INFLO","k":7,"p":0.0625},{"m":"INFLO","k":8,"p":0.0625},{"m":"INFLO","k":9,"p":0.0625},{"m":"INFLO","k":10,"p":0.0625},{"m":"INFLO","k":11,"p":0.0625},{"m":"INFLO","k":12,"p":0.125},{"m":"INFLO","k":13,"p":0.125},{"m":"INFLO","k":14,"p":0.125},{"m":"INFLO","k":15,"p":0.125},{"m":"INFLO","k":16,"p":0.125},{"m":"INFLO","k":17,"p":0.125},{"m":"INFLO","k":18,"p":0.125},{"m":"INFLO","k":19,"p":0.125},{"m":"INFLO","k":20,"p":0.125},{"m":"INFLO","k":21,"p":0.125},{"m":"INFLO","k":22,"p":0.125},{"m":"INFLO","k":23,"p":0.125},{"m":"INFLO","k":24,"p":0.125},{"m":"INFLO","k":25,"p":0.125},{"m":"INFLO","k":26,"p":0.125},{"m":"INFLO","k":27,"p":0.125},{"m":"INFLO","k":28,"p":0.125},{"m":"INFLO","k":29,"p":0.125},{"m":"INFLO","k":30,"p":0.125},{"m":"INFLO","k":31,"p":0.125},{"m":"INFLO","k":32,"p":0.125},{"m":"INFLO","k":33,"p":0.125},{"m":"INFLO","k":34,"p":0.125},{"m":"INFLO","k":35,"p":0.125},{"m":"INFLO","k":36,"p":0.125},{"m":"INFLO","k":37,"p":0.125},{"m":"INFLO","k":38,"p":0.125},{"m":"INFLO","k":39,"p":0.125},{"m":"INFLO","k":40,"p":0.125},{"m":"INFLO","k":41,"p":0.125},{"m":"INFLO","k":42,"p":0.125},{"m":"INFLO","k":43,"p":0.125},{"m":"INFLO","k":44,"p":0.125},{"m":"INFLO","k":45,"p":0.125},{"m":"INFLO","k":46,"p":0.125},{"m":"INFLO","k":47,"p":0.125},{"m":"INFLO","k":48,"p":0.125},{"m":"INFLO","k":49,"p":0.125},{"m":"INFLO","k":50,"p":0.125},{"m":"INFLO","k":51,"p":0.125},{"m":"INFLO","k":52,"p":0.125},{"m":"INFLO","k":53,"p":0.125},{"m":"INFLO","k":54,"p":0.125},{"m":"INFLO","k":55,"p":0.125},{"m":"INFLO","k":56,"p":0.125},{"m":"INFLO","k":57,"p":0.125},{"m":"INFLO","k":58,"p":0.125},{"m":"INFLO","k":59,"p":0.125},{"m":"INFLO","k":60,"p":0.125},{"m":"INFLO","k":61,"p":0.125},{"m":"INFLO","k":62,"p":0.125},{"m":"INFLO","k":63,"p":0.125},{"m":"INFLO","k":64,"p":0.125},{"m":"INFLO","k":65,"p":0.125},{"m":"INFLO","k":66,"p":0.125},{"m":"INFLO","k":67,"p":0.125},{"m":"INFLO","k":68,"p":0.125},{"m":"INFLO","k":69,"p":0.125},{"m":"INFLO","k":70,"p":0.125},{"m":"INFLO","k":71,"p":0.125},{"m":"INFLO","k":72,"p":0.125},{"m":"INFLO","k":73,"p":0.125},{"m":"INFLO","k":74,"p":0.125},{"m":"INFLO","k":75,"p":0.125},{"m":"INFLO","k":76,"p":0.125},{"m":"INFLO","k":77,"p":0.125},{"m":"INFLO","k":78,"p":0.125},{"m":"INFLO","k":79,"p":0.125},{"m":"INFLO","k":80,"p":0.125},{"m":"INFLO","k":81,"p":0.125},{"m":"INFLO","k":82,"p":0.125},{"m":"INFLO","k":83,"p":0.125},{"m":"INFLO","k":84,"p":0.125},{"m":"INFLO","k":85,"p":0.125},{"m":"INFLO","k":86,"p":0.125},{"m":"INFLO","k":87,"p":0.125},{"m":"INFLO","k":88,"p":0.125},{"m":"INFLO","k":89,"p":0.125},{"m":"INFLO","k":90,"p":0.125},{"m":"INFLO","k":91,"p":0.125},{"m":"INFLO","k":92,"p":0.125},{"m":"INFLO","k":93,"p":0.125},{"m":"INFLO","k":94,"p":0.125},{"m":"INFLO","k":95,"p":0.125},{"m":"INFLO","k":96,"p":0.125},{"m":"INFLO","k":97,"p":0.125},{"m":"INFLO","k":98,"p":0.125},{"m":"INFLO","k":99,"p":0.125},{"m":"INFLO","k":100,"p":0.125}
]},
"data":{"name":"d"},
"resolve":{"scale":{"color":"independent","shape":"independent"},"axis":{"x":"independent","y":"independent"}},
"layer":[
{"mark":{"type":"line","strokeDash":[3.5,3],"strokeWidth":1,"clip":true},
 "encoding":{
  "x":{"field":"k","type":"quantitative","scale":{"domain":[-0.07,101.04],"nice":false,"zero":false},
   "axis":{"orient":"bottom","values":[1,10,20,30,40,50,60,70,80,90,100],"domain":false,"grid":false,"tickSize":7,"tickColor":"#333","tickWidth":1,"labelFont":"Liberation Sans","labelFontSize":15,"labelColor":"black","labelPadding":5,"labelFlush":false,"labelOverlap":false,"labelBound":false,"title":"Neighborhood size","titleFont":"Liberation Sans","titleFontSize":15,"titleFontWeight":"normal","titleColor":"black","titleX":315.5,"titleY":59,"titleBaseline":"alphabetic"}},
  "y":{"field":"p","type":"quantitative","scale":{"domain":[0,0.25],"nice":false,"zero":false},
   "axis":{"orient":"left","values":[0,0.05,0.1,0.15,0.2,0.25],"format":".2f","domain":false,"grid":false,"tickSize":7,"tickColor":"#333","tickWidth":1,"labelFont":"Liberation Sans","labelFontSize":15,"labelColor":"black","labelPadding":2,"labelFlush":false,"labelOverlap":false,"labelBound":false,"title":"P@n","titleFont":"Liberation Sans","titleFontSize":15,"titleFontWeight":"normal","titleColor":"black","titleX":-48,"titleY":155.5,"titleAngle":270,"titleAlign":"center","titleBaseline":"alphabetic"}},
  "color":{"field":"m","type":"nominal","legend":null,"scale":{"domain":["kNN","kNNW","LOF","SimplifiedLOF","LoOP","LDOF","ODIN","KDEOS","COF","FastABOD","LDF","INFLO"],"range":["#1010FF","#FF1010","#00DD00","#000000","#EEEE00","#C4C4FF","#A020F0","#FFAA00","#000090","#F5C0F5","#B22222","#9ACD32"]}}
 }},
{"mark":{"type":"point","filled":false,"size":100,"strokeWidth":1,"opacity":1,"clip":true},
 "encoding":{
  "x":{"field":"k","type":"quantitative","axis":{"orient":"bottom","labels":false,"ticks":false,"domain":false,"grid":false,"title":["On the Evaluation of Unsupervised Outlier Detection. DAMI, 2015.","Campos, Zimek, Sander, Campello, Micenkova, Schubert, Assent, Houle"],"titleFont":"DejaVu Sans Condensed","titleFontSize":9.5,"titleFontWeight":"bold","titleColor":"#AAAAAA","titleAlign":"left","titleX":280,"titleY":57.5,"titleBaseline":"alphabetic","titleLineHeight":9.5}},
  "y":{"field":"p","type":"quantitative","axis":null},
  "color":{"field":"m","type":"nominal","legend":null,"scale":{"domain":["kNN","kNNW","LOF","SimplifiedLOF","LoOP","LDOF","ODIN","KDEOS","COF","FastABOD","LDF","INFLO"],"range":["#1010FF","#FF1010","#00DD00","#000000","#EEEE00","#C4C4FF","#A020F0","#FFAA00","#000090","#F5C0F5","#B22222","#9ACD32"]}},
  "shape":{"field":"m","type":"nominal","legend":null,"scale":{"domain":["kNN","kNNW","LOF","SimplifiedLOF","LoOP","LDOF","ODIN","KDEOS","COF","FastABOD","LDF","INFLO"],"range":[
   "M-0.72,-0.72H0.72V0.72H-0.72Z",
   "M-0.8,0A0.8,0.8 0 1,0 0.8,0A0.8,0.8 0 1,0 -0.8,0Z",
   "M0,-0.95L1,0.65L-1,0.65Z",
   "M-0.85,0H0.85M0,-0.85V0.85",
   "M-0.62,-0.62L0.62,0.62M-0.62,0.62L0.62,-0.62",
   "M0,-0.95L0.95,0L0,0.95L-0.95,0Z",
   "M0,0.95L1,-0.65L-1,-0.65Z",
   "M-0.72,-0.72H0.72V0.72H-0.72ZM-0.72,-0.72L0.72,0.72M-0.72,0.72L0.72,-0.72",
   "M-0.85,0H0.85M0,-0.85V0.85M-0.6,-0.6L0.6,0.6M-0.6,0.6L0.6,-0.6",
   "M0,-0.95L0.95,0L0,0.95L-0.95,0ZM-0.95,0H0.95M0,-0.95V0.95",
   "M-0.8,0A0.8,0.8 0 1,0 0.8,0A0.8,0.8 0 1,0 -0.8,0ZM-0.8,0H0.8M0,-0.8V0.8",
   "M0,-0.95L0.85,0.5L-0.85,0.5ZM0,0.95L0.85,-0.5L-0.85,-0.5Z"]}}
 }},
{"transform":[{"filter":"datum.k < 0"}],"mark":{"type":"point","filled":false,"size":324,"strokeWidth":1},
 "encoding":{"x":{"field":"k","type":"quantitative","axis":null},"y":{"field":"p","type":"quantitative","axis":null},
  "color":{"field":"m","type":"nominal","scale":{"domain":["kNN","ODIN"],"range":["#1010FF","#A020F0"]},"legend":{"legendX":38}},
  "shape":{"field":"m","type":"nominal","scale":{"domain":["kNN","ODIN"],"range":["M-1,0H-0.62M0.66,0H1M-0.4,-0.4H0.4V0.4H-0.4Z","M-1,0H-0.62M0.66,0H1M0,0.53L0.56,-0.36L-0.56,-0.36Z"]},"legend":{"legendX":38}}}},
{"transform":[{"filter":"datum.k < 0"}],"mark":{"type":"point","filled":false,"size":324,"strokeWidth":1},
 "encoding":{"x":{"field":"k","type":"quantitative","axis":null},"y":{"field":"p","type":"quantitative","axis":null},
  "color":{"field":"m","type":"nominal","scale":{"domain":["kNNW","KDEOS"],"range":["#FF1010","#FFAA00"]},"legend":{"legendX":119}},
  "shape":{"field":"m","type":"nominal","scale":{"domain":["kNNW","KDEOS"],"range":["M-1,0H-0.62M0.66,0H1M-0.44,0A0.44,0.44 0 1,0 0.44,0A0.44,0.44 0 1,0 -0.44,0Z","M-1,0H-0.62M0.66,0H1M-0.4,-0.4H0.4V0.4H-0.4ZM-0.4,-0.4L0.4,0.4M-0.4,0.4L0.4,-0.4"]},"legend":{"legendX":119}}}},
{"transform":[{"filter":"datum.k < 0"}],"mark":{"type":"point","filled":false,"size":324,"strokeWidth":1},
 "encoding":{"x":{"field":"k","type":"quantitative","axis":null},"y":{"field":"p","type":"quantitative","axis":null},
  "color":{"field":"m","type":"nominal","scale":{"domain":["LOF","COF"],"range":["#00DD00","#000090"]},"legend":{"legendX":223}},
  "shape":{"field":"m","type":"nominal","scale":{"domain":["LOF","COF"],"range":["M-1,0H-0.62M0.66,0H1M0,-0.53L0.56,0.36L-0.56,0.36Z","M-1,0H-0.62M0.66,0H1M-0.47,0H0.47M0,-0.47V0.47M-0.33,-0.33L0.33,0.33M-0.33,0.33L0.33,-0.33"]},"legend":{"legendX":223}}}},
{"transform":[{"filter":"datum.k < 0"}],"mark":{"type":"point","filled":false,"size":324,"strokeWidth":1},
 "encoding":{"x":{"field":"k","type":"quantitative","axis":null},"y":{"field":"p","type":"quantitative","axis":null},
  "color":{"field":"m","type":"nominal","scale":{"domain":["SimplifiedLOF","FastABOD"],"range":["#000000","#F5C0F5"]},"legend":{"legendX":298}},
  "shape":{"field":"m","type":"nominal","scale":{"domain":["SimplifiedLOF","FastABOD"],"range":["M-1,0H-0.62M0.66,0H1M-0.47,0H0.47M0,-0.47V0.47","M-1,0H-0.62M0.66,0H1M0,-0.53L0.53,0L0,0.53L-0.53,0ZM-0.53,0H0.53M0,-0.53V0.53"]},"legend":{"legendX":298}}}},
{"transform":[{"filter":"datum.k < 0"}],"mark":{"type":"point","filled":false,"size":324,"strokeWidth":1},
 "encoding":{"x":{"field":"k","type":"quantitative","axis":null},"y":{"field":"p","type":"quantitative","axis":null},
  "color":{"field":"m","type":"nominal","scale":{"domain":["LoOP","LDF"],"range":["#EEEE00","#B22222"]},"legend":{"legendX":434}},
  "shape":{"field":"m","type":"nominal","scale":{"domain":["LoOP","LDF"],"range":["M-1,0H-0.62M0.66,0H1M-0.34,-0.34L0.34,0.34M-0.34,0.34L0.34,-0.34","M-1,0H-0.62M0.66,0H1M-0.44,0A0.44,0.44 0 1,0 0.44,0A0.44,0.44 0 1,0 -0.44,0ZM-0.44,0H0.44M0,-0.44V0.44"]},"legend":{"legendX":434}}}},
{"transform":[{"filter":"datum.k < 0"}],"mark":{"type":"point","filled":false,"size":324,"strokeWidth":1},
 "encoding":{"x":{"field":"k","type":"quantitative","axis":null},"y":{"field":"p","type":"quantitative","axis":null},
  "color":{"field":"m","type":"nominal","scale":{"domain":["LDOF","INFLO"],"range":["#C4C4FF","#9ACD32"]},"legend":{"legendX":526}},
  "shape":{"field":"m","type":"nominal","scale":{"domain":["LDOF","INFLO"],"range":["M-1,0H-0.62M0.66,0H1M0,-0.53L0.53,0L0,0.53L-0.53,0Z","M-1,0H-0.62M0.66,0H1M0,-0.53L0.47,0.28L-0.47,0.28ZM0,0.53L0.47,-0.28L-0.47,-0.28Z"]},"legend":{"legendX":526}}}}
]
}
